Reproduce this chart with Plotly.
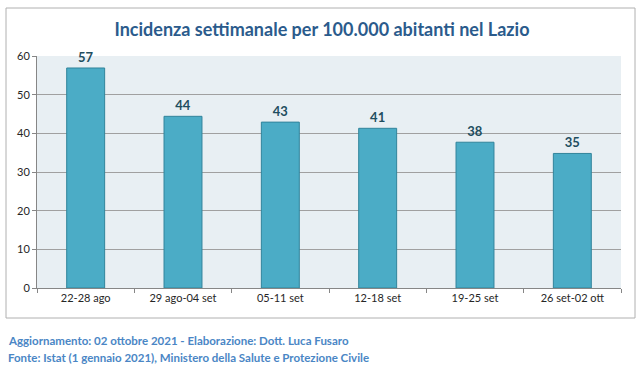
import plotly.graph_objects as go

categories = ["22-28 ago", "29 ago-04 set", "05-11 set", "12-18 set", "19-25 set", "26 set-02 ott"]
values = [56.9, 44.4, 42.9, 41.3, 37.7, 34.8]
y_ticks = [0, 10, 20, 30, 40, 50, 60]

title_text = "Incidenza settimanale per 100.000 abitanti nel Lazio"
footer_1 = "Aggiornamento: 02 ottobre 2021 - Elaborazione: Dott. Luca Fusaro"
footer_2 = "Fonte: Istat (1 gennaio 2021), Ministero della Salute e Protezione Civile"

FONT = "Lato"

fig = go.Figure()
fig.add_trace(go.Bar(
    x=categories, y=values,
    marker=dict(color="#4BACC6", line=dict(color="#31849B", width=1)),
    texttemplate="%{y:.0f}", textposition="outside",
    textfont=dict(family=FONT, size=13, color="#1F4E5F", weight="bold"),
    cliponaxis=False,
))

fig.update_layout(
    width=644, height=370,
    margin=dict(l=37, r=23, t=56, b=82),
    paper_bgcolor="white", plot_bgcolor="#E8EFF3",
    bargap=0.61,
    showlegend=False,
    title=dict(text=title_text, x=0.5, xanchor="center", y=0.92, yanchor="middle",
               font=dict(family=FONT, size=18, color="#2B5B8C", weight="bold")),
    font=dict(family=FONT, size=11, color="#262626"),
)
fig.update_xaxes(
    tickson="boundaries", ticks="outside", ticklen=4, tickcolor="#868686",
    showline=True, linecolor="#868686", linewidth=1,
    tickfont=dict(family=FONT, size=11, color="#262626"),
)
fig.update_yaxes(
    range=[0, 60], tickvals=y_ticks, ticks="outside", ticklen=4, tickcolor="#868686",
    showline=True, linecolor="#868686", linewidth=1,
    showgrid=True, gridcolor="#A0A0A0", gridwidth=1, zeroline=False,
    tickfont=dict(family=FONT, size=11, color="#262626"),
)

fig.add_shape(type="rect", xref="paper", yref="paper",
              x0=-31/584, x1=(635-37)/584, y0=-(318-288)/232, y1=(288-8)/232,
              line=dict(color="#B0B0B0", width=1), fillcolor="rgba(0,0,0,0)", layer="below")

fig.add_annotation(text=footer_1, xref="paper", yref="paper", x=-31/584, y=-(340-288)/232,
                   xanchor="left", yanchor="middle", showarrow=False,
                   font=dict(family=FONT, size=11.5, color="#4A86C5", weight="bold"))
fig.add_annotation(text=footer_2, xref="paper", yref="paper", x=-31/584, y=-(357-288)/232,
                   xanchor="left", yanchor="middle", showarrow=False,
                   font=dict(family=FONT, size=11.5, color="#4A86C5", weight="bold"))

fig.write_html("out.html", config={"displayModeBar": False},
               post_script="document.body.style.margin='0px';document.body.style.overflow='hidden';")
